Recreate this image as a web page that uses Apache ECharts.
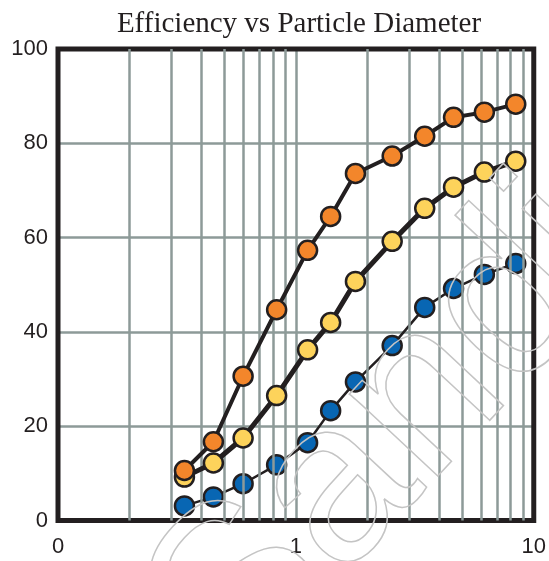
<!DOCTYPE html>
<html>
<head>
<meta charset="utf-8">
<script src="https://cdn.jsdelivr.net/npm/echarts@6/dist/echarts.min.js"></script>
<style>
html,body{margin:0;padding:0;background:#fff;}
#chart{width:549px;height:561px;}
</style>
</head>
<body>
<div id="chart"></div>
<script>
var titleText = 'Efficiency vs Particle Diameter';
var diameters = [0.34, 0.45, 0.6, 0.83, 1.12, 1.4, 1.78, 2.54, 3.48, 4.6, 6.2, 8.4];
var orangeVals = [10.6, 16.7, 30.6, 44.7, 57.3, 64.5, 73.6, 77.3, 81.5, 85.5, 86.6, 88.3];
var yellowVals = [9.2, 12.2, 17.5, 26.5, 36.2, 42.0, 50.7, 59.2, 66.2, 70.7, 73.9, 76.2];
var blueVals = [3.1, 5.0, 7.8, 11.8, 16.5, 23.3, 29.4, 37.1, 45.2, 49.2, 52.2, 54.5];
var xTickLabels = ['0', '1', '10'];
var xMinorGrid = [0.2, 0.3, 0.4, 0.5, 0.6, 0.7, 0.8, 0.9, 2, 3, 4, 5, 6, 7, 8, 9];
var watermarkText = 'Sandia';

function pairs(xs, ys) { return xs.map(function (x, i) { return [x, ys[i]]; }); }

var gridColor = '#8d9a98';
var ink = '#231f20';

var chart = echarts.init(document.getElementById('chart'), null, {renderer: 'canvas'});

function mkSeries(name, vals, color, lw, z) {
  return {
    name: name, type: 'line', data: pairs(diameters, vals), z: z,
    symbol: 'circle', symbolSize: 19,
    itemStyle: {color: color, borderColor: ink, borderWidth: 2.5},
    lineStyle: {color: ink, width: lw},
    emphasis: {disabled: true}, animation: false
  };
}

chart.setOption({
  animation: false,
  title: {
    text: titleText, left: 294, top: 5, textAlign: 'center',
    textStyle: {fontFamily: 'Liberation Serif', fontSize: 29, fontWeight: 'normal', color: ink}
  },
  grid: {left: 58, right: 11, top: 49, bottom: 40.5, show: true, borderColor: ink, borderWidth: 5, backgroundColor: 'transparent', z: 3},
  xAxis: {
    type: 'log', logBase: 10, min: 0.1, max: 10,
    axisLine: {show: false}, axisTick: {show: false},
    splitLine: {show: true, lineStyle: {color: gridColor, width: 2.5}},
    axisLabel: {
      margin: 15, fontFamily: 'Liberation Sans', fontSize: 22, color: ink,
      formatter: function (v, i) { return xTickLabels[i]; }
    }
  },
  yAxis: {
    type: 'value', min: 0, max: 100, interval: 20,
    axisLine: {show: false}, axisTick: {show: false},
    splitLine: {show: true, lineStyle: {color: gridColor, width: 2.5}},
    axisLabel: {margin: 10, fontFamily: 'Liberation Sans', fontSize: 22, color: ink}
  },
  series: [
    {
      name: 'grid', type: 'line', data: [], z: 1, silent: true,
      markLine: {
        silent: true, symbol: ['none', 'none'], animation: false,
        label: {show: false},
        lineStyle: {color: gridColor, width: 2.5, type: 'solid'},
        emphasis: {disabled: true},
        data: xMinorGrid.map(function (v) { return {xAxis: v}; })
      }
    },
    mkSeries('Low', blueVals, '#0866b3', 2.5, 4),
    mkSeries('Mid', yellowVals, '#fdd35b', 5, 5),
    mkSeries('High', orangeVals, '#f3862b', 4, 6)
  ],
  graphic: [{
    type: 'text', silent: true, z: 100,
    x: 433, y: 389, rotation: 0.82,
    style: {
      text: watermarkText, fill: 'none', stroke: '#c4c4c4', lineWidth: 1.5,
      font: '228px "Liberation Sans"', align: 'center', verticalAlign: 'middle'
    }
  }]
});
</script>
</body>
</html>
